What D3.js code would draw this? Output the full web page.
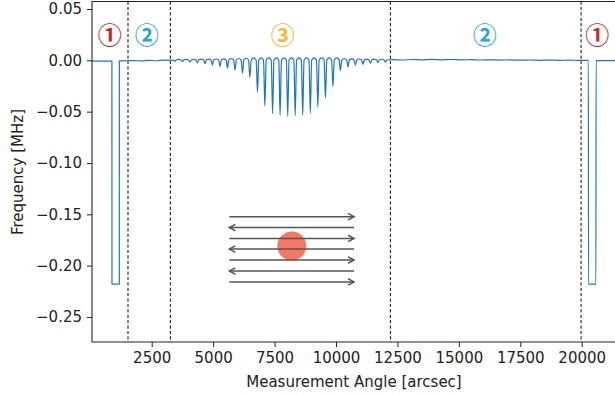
<!DOCTYPE html>
<html>
<head>
<meta charset="utf-8">
<script src="https://cdn.jsdelivr.net/npm/d3@7"></script>
<style>
  html, body { margin: 0; padding: 0; background: #fff; }
  svg { display: block; font-family: "DejaVu Sans", sans-serif; }
</style>
</head>
<body>
<svg id="chart" width="615" height="395"></svg>
<script>
// ---------------- data ----------------
const xTicks = [2500, 5000, 7500, 10000, 12500, 15000, 17500, 20000];
const yTicks = [0.05, 0.00, -0.05, -0.10, -0.15, -0.20, -0.25];
const dividerAngles = [1535, 3260, 12215, 19975];

// baseline samples [angle, freq] (near-zero drift)
const baseAngles = [70, 600, 880, 1183, 1500, 1800, 2100, 2400, 2700, 3000, 3200,
                    12300, 12700, 13100, 13500, 13900, 14300, 14700, 15100, 15500, 15900,
                    16300, 16700, 17100, 17500, 17900, 18300, 18700, 19100, 19500, 19900, 20270,
                    20585, 21000, 21440];
const baseFreqs  = [-0.0008, -0.0008, -0.0007, -0.0006, -0.0004, -0.0002, -0.0006, 0.0000, -0.0004, 0.0002, 0.0000,
                    0.0006, 0.0003, 0.0008, 0.0004, 0.0009, 0.0005, 0.0008, 0.0004, 0.0007, 0.0003,
                    0.0005, 0.0002, 0.0004, 0.0001, 0.0003, 0.0000, 0.0002, 0.0000, 0.0001, 0.0000, 0.0000,
                    -0.0003, -0.0003, -0.0003];

// deep rectangular drops (region ①)
const dropStarts = [883, 20277];
const dropEnds   = [1180, 20578];
const dropLevels = [-0.218, -0.218];

// periodic dips in region ③
const dipAngles = [3440, 3750, 4060, 4360, 4670, 4970, 5280, 5585, 5890, 6195, 6495, 6805, 7105,
                   7420, 7725, 8035, 8340, 8645, 8955, 9260, 9570, 9875, 10180, 10490, 10790,
                   11095, 11400, 11705, 12010];
const dipDepths = [-0.0010, -0.0012, -0.0018, -0.0025, -0.0032, -0.0045, -0.0060, -0.0076, -0.0095,
                   -0.0125, -0.0165, -0.0310, -0.0445, -0.0518, -0.0533, -0.0547, -0.0538, -0.0533,
                   -0.0513, -0.0455, -0.0367, -0.0257, -0.0099, -0.0062, -0.0046, -0.0039, -0.0029,
                   -0.0023, -0.0017];

// region labels
const regionLabels = ["①", "②", "③", "②", "①"];
const regionAngles = [795, 2300, 7830, 16050, 20630];
const regionColors = ["#c62828", "#1fa6df", "#f5b731", "#1fa6df", "#c62828"];

// inset scan diagram (in data coordinates)
const scanRows = [-0.1523, -0.1629, -0.1735, -0.1839, -0.1946, -0.2053, -0.2159];
const scanDirs = [1, -1, 1, -1, 1, -1, 1];
const scanFrom = 5660, scanTo = 10735;
const sourceAngle = 8200, sourceFreq = -0.1809;

// ---------------- drawing ----------------
const svg = d3.select("#chart");
const x = d3.scaleLinear().domain([70, 21440]).range([92, 617.1]);
const y = d3.scaleLinear().domain([-0.2744, 0.0573]).range([342, 1.5]);

// build trace
const pts = [];
const dipW = 55, archH = 0.0024;
// left part up to first drop
baseAngles.forEach((a, i) => { if (a <= 880) pts.push([a, baseFreqs[i]]); });
pts.push([dropStarts[0], dropLevels[0]], [dropEnds[0], dropLevels[0]]);
baseAngles.forEach((a, i) => { if (a >= 1183 && a <= 3200) pts.push([a, baseFreqs[i]]); });
dipAngles.forEach((c, i) => {
  pts.push([c - dipW, 0.0003], [c, dipDepths[i]], [c + dipW, 0.0003]);
  if (i < dipAngles.length - 1) {
    const amp = archH * Math.min(1, 0.35 + Math.abs(dipDepths[i]) * 40);
    pts.push([(c + dipAngles[i + 1]) / 2, amp]);
  }
});
baseAngles.forEach((a, i) => { if (a >= 12300 && a <= 20270) pts.push([a, baseFreqs[i]]); });
pts.push([dropStarts[1], dropLevels[1]], [dropEnds[1], dropLevels[1]]);
baseAngles.forEach((a, i) => { if (a >= 20585) pts.push([a, baseFreqs[i]]); });

const clipId = "plotclip";
svg.append("clipPath").attr("id", clipId).append("rect")
  .attr("x", 92).attr("y", 1.5).attr("width", 617.1 - 92).attr("height", 342 - 1.5);

// dashed dividers
svg.append("g").selectAll("line").data(dividerAngles).join("line")
  .attr("x1", d => x(d)).attr("x2", d => x(d))
  .attr("y1", y.range()[1]).attr("y2", y.range()[0])
  .attr("stroke", "#222").attr("stroke-width", 1.1).attr("stroke-dasharray", "3.2,2.2");

// trace: straight segments for drops, smooth arches otherwise
const line = d3.line().x(d => x(d[0])).y(d => y(d[1])).curve(d3.curveMonotoneX);
svg.append("path").datum(pts)
  .attr("clip-path", `url(#${clipId})`)
  .attr("d", line)
  .attr("fill", "none").attr("stroke", "#1f77b4").attr("stroke-width", 1.2)
  .attr("stroke-linejoin", "round");

// inset diagram
svg.append("circle")
  .attr("cx", x(sourceAngle)).attr("cy", y(sourceFreq)).attr("r", 14.5)
  .attr("fill", "#f77763");
const ah = 6, aw = 3.2;
const inset = svg.append("g").attr("stroke", "#555").attr("stroke-width", 1.5).attr("fill", "none");
scanRows.forEach((r, i) => {
  const yy = y(r), x0 = x(scanFrom), x1 = x(scanTo);
  inset.append("line").attr("x1", x0).attr("x2", x1).attr("y1", yy).attr("y2", yy);
  const tip = scanDirs[i] > 0 ? x1 : x0;
  const back = tip - scanDirs[i] * ah;
  inset.append("path").attr("d", `M${back},${yy - aw}L${tip},${yy}L${back},${yy + aw}`);
});

// axes
const xAxis = d3.axisBottom(x).tickValues(xTicks).tickFormat(d3.format("d")).tickSize(5).tickPadding(5.5);
const yAxis = d3.axisLeft(y).tickValues(yTicks).tickFormat(d => d3.format(".2f")(d).replace("-", "−")).tickSize(5).tickPadding(5);
const gx = svg.append("g").attr("transform", "translate(0,342)").call(xAxis);
const gy = svg.append("g").attr("transform", "translate(92,0)").call(yAxis);
[gx, gy].forEach(g => {
  g.select(".domain").remove();
  g.selectAll("text").attr("font-size", 15).attr("font-family", "DejaVu Sans").attr("fill", "#222");
  g.selectAll("line").attr("stroke", "#222").attr("stroke-width", 1);
});

// spines (left, bottom, top)
svg.append("path")
  .attr("d", `M617.1,1.5H92V342H617.1`)
  .attr("fill", "none").attr("stroke", "#222").attr("stroke-width", 1.1);

// axis labels
svg.append("text").attr("x", 354).attr("y", 387).attr("text-anchor", "middle")
  .attr("font-size", 15).attr("fill", "#222").text("Measurement Angle [arcsec]");
svg.append("text").attr("transform", "translate(23,172) rotate(-90)").attr("text-anchor", "middle")
  .attr("font-size", 15).attr("fill", "#222").text("Frequency [MHz]");

// region labels
svg.append("g").selectAll("text").data(regionLabels).join("text")
  .attr("x", (d, i) => x(regionAngles[i])).attr("y", 33)
  .attr("text-anchor", "middle").attr("dominant-baseline", "central")
  .attr("font-family", "Noto Sans CJK JP").attr("font-size", 24).attr("font-weight", "bold")
  .attr("fill", (d, i) => regionColors[i]).text(d => d);
</script>
</body>
</html>
